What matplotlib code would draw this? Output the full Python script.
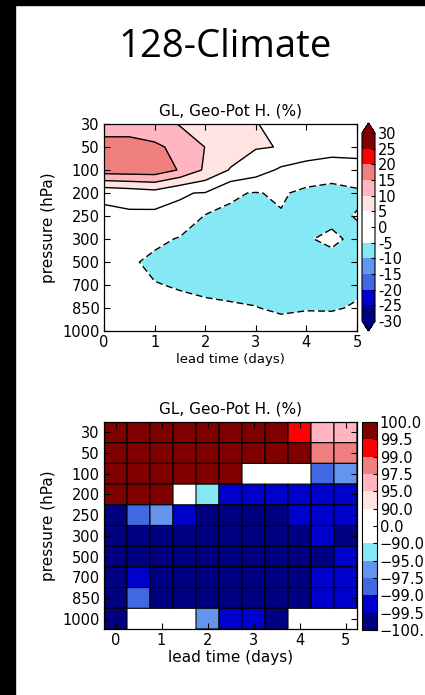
import numpy as np
import matplotlib
matplotlib.use('Agg')
import matplotlib.pyplot as plt
from matplotlib.colors import ListedColormap, BoundaryNorm
from matplotlib.patches import Rectangle

plev_labels = ['30', '50', '100', '200', '250', '300', '500', '700', '850', '1000']
lead_days = [0, 0.5, 1, 1.5, 2, 2.5, 3, 3.5, 4, 4.5, 5]

# geo-potential height anomaly (%) per level (rows) and lead time (cols)
geo_anom = [
    [12.5, 12.5, 12.5, 9.6, 8.5, 7.0, 5.2, 3.5, 2.5, 2.0, 1.5],
    [17.0, 17.0, 15.7, 13.95, 9.9, 8.0, 5.3, 4.87, 3.1, 1.2, 1.5],
    [17.7, 17.9, 18.0, 14.6, 9.25, 4.6, 2.3, -0.8, -2.0, -1.5, -1.5],
    [1.0, 1.9, 3.0, 0.2, -0.17, -4.6, -5.2, -4.5, -6.0, -7.5, -5.9],
    [-1.0, -0.78, -1.2, -0.47, -5.3, -5.5, -6.5, -5.25, -7.0, -6.3, -4.7],
    [-2.0, -3.0, -3.5, -5.5, -6.5, -7.0, -7.5, -7.5, -5.43, -4.0, -6.2],
    [-2.5, -4.0, -6.5, -7.0, -7.5, -8.0, -8.0, -8.0, -7.0, -6.6, -7.0],
    [-2.5, -3.5, -4.7, -5.5, -6.0, -6.5, -7.0, -7.0, -6.5, -6.5, -6.0],
    [-2.0, -3.0, -3.5, -3.42, -4.15, -4.42, -4.8, -6.0, -5.3, -5.5, -4.5],
    [-1.0, -2.0, -2.5, -2.5, -3.0, -3.0, -3.0, -2.3, -2.8, -2.0, -2.5],
]
anom_levels = [-30, -25, -20, -15, -10, -5, 0, 5, 10, 15, 20, 25, 30]
anom_ticklabels = ['-30', '-25', '-20', '-15', '-10', '-5', '0', '5', '10', '15', '20', '25', '30']

# significance (%) per cell, nan = not significant (blank)
nan = np.nan
signif = [
    [99.8, 99.8, 99.8, 99.8, 99.8, 99.8, 99.8, 99.8, 99.2, 96.0, 96.0],
    [99.8, 99.8, 99.8, 99.8, 99.8, 99.8, 99.8, 99.8, 99.8, 98.0, 98.0],
    [99.8, 99.8, 99.8, 99.8, 99.8, 99.8, nan, nan, nan, -98.0, -96.0],
    [99.8, 99.8, 99.8, nan, -92.0, -99.2, -99.2, -99.2, -99.2, -99.2, -99.2],
    [-99.8, -98.0, -96.0, -99.2, -99.8, -99.8, -99.8, -99.8, -99.2, -99.2, -99.2],
    [-99.8, -99.8, -99.8, -99.8, -99.8, -99.8, -99.8, -99.8, -99.8, -99.2, -99.8],
    [-99.8, -99.8, -99.8, -99.8, -99.8, -99.8, -99.8, -99.8, -99.8, -99.8, -99.2],
    [-99.8, -99.2, -99.8, -99.8, -99.8, -99.8, -99.8, -99.8, -99.8, -99.2, -99.2],
    [-99.8, -98.0, -99.8, -99.8, -99.8, -99.8, -99.8, -99.8, -99.8, -99.2, -99.2],
    [-99.8, nan, nan, nan, -96.0, -99.2, -99.2, -99.8, nan, nan, nan],
]
sig_levels = [-100, -99.5, -99, -97.5, -95, -90, 0, 90, 95, 97.5, 99, 99.5, 100]
sig_ticklabels = ['\u2212100.0', '\u221299.5', '\u221299.0', '\u221297.5', '\u221295.0', '\u221290.0',
                  '0.0', '90.0', '95.0', '97.5', '99.0', '99.5', '100.0']

colors = ['#000080', '#0000CD', '#4169E1', '#6495ED', '#85E9F5', '#FFFFFF',
          '#FFFFFF', '#FFE4E1', '#FFB6C1', '#F08080', '#FF0000', '#800000']

plt.rcParams['font.size'] = 10.5
plt.rcParams['axes.linewidth'] = 0.9

fig = plt.figure(figsize=(4.25, 6.95), dpi=100)
W, H = 425.0, 695.0

def box(x0, y0, x1, y1):
    # pixel box (top-left origin) -> figure fraction
    return [x0 / W, 1 - y1 / H, (x1 - x0) / W, (y1 - y0) / H]

# black slide edges
fig.patches.append(Rectangle((0, 0), 15 / W, 1, transform=fig.transFigure, color='black', zorder=10))
fig.patches.append(Rectangle((0, 1 - 5 / H), 1, 5 / H, transform=fig.transFigure, color='black', zorder=10))

fig.text(225 / W, 1 - 57 / H, '128-Climate', ha='center', va='baseline', fontsize=27.5, family='Open Sans')

cmap = ListedColormap(colors)
cmap.set_under(colors[0])
cmap.set_over(colors[-1])

# ---- top: contour of anomaly
ax1 = fig.add_axes(box(104, 124, 357, 331))
yy = np.arange(len(plev_labels))
Z = np.array(geo_anom)
norm1 = BoundaryNorm(anom_levels, cmap.N)
cf = ax1.contourf(lead_days, yy, Z, levels=anom_levels, cmap=cmap, norm=norm1, extend='both')
ax1.contour(lead_days, yy, Z, levels=anom_levels, colors='k', linewidths=1.0,
            negative_linestyles=(0, (5, 2.5)))
ax1.set_xlim(0, 5)
ax1.set_ylim(9, 0)
ax1.set_yticks(yy)
ax1.set_yticklabels(plev_labels)
ax1.set_xticks([0, 1, 2, 3, 4, 5])
ax1.tick_params(direction='in', top=True, right=True, length=4, pad=3)
ax1.set_title('GL, Geo-Pot H. (%)', fontsize=11, pad=6)
ax1.set_xlabel('lead time (days)', fontsize=9.5, labelpad=2)
ax1.set_ylabel('pressure (hPa)', fontsize=11)
ax1.yaxis.set_label_coords(-0.19, 0.5)

cax1 = fig.add_axes(box(362, 123, 375, 331))
cb1 = fig.colorbar(cf, cax=cax1, ticks=anom_levels, extendfrac=0.053)
cb1.set_ticklabels(anom_ticklabels)
cb1.ax.tick_params(direction='in', length=3, pad=2)
cb1.outline.set_linewidth(0.8)

# ---- bottom: significance cells
ax2 = fig.add_axes(box(104, 422, 357, 629))
S = np.ma.masked_invalid(np.array(signif))
norm2 = BoundaryNorm(sig_levels, cmap.N)
pc = ax2.pcolor(lead_days, yy, S, cmap=cmap, norm=norm2, shading='nearest',
                edgecolors='black', linewidth=0.8)
ax2.set_xlim(-0.25, 5.25)
ax2.set_ylim(9.5, -0.5)
ax2.set_yticks(yy)
ax2.set_yticklabels(plev_labels)
ax2.set_xticks([0, 1, 2, 3, 4, 5])
ax2.tick_params(direction='in', top=True, right=True, length=4, pad=3)
ax2.set_title('GL, Geo-Pot H. (%)', fontsize=11, pad=6)
ax2.set_xlabel('lead time (days)', fontsize=11, labelpad=1)
ax2.set_ylabel('pressure (hPa)', fontsize=11)
ax2.yaxis.set_label_coords(-0.19, 0.5)

cax2 = fig.add_axes(box(362, 422, 377, 630))
cb2 = fig.colorbar(pc, cax=cax2, ticks=sig_levels, spacing='uniform')
cb2.set_ticklabels(sig_ticklabels)
cb2.ax.tick_params(direction='in', length=3, pad=2)
cb2.outline.set_linewidth(0.8)

fig.savefig('out.png', dpi=100, facecolor='white')
